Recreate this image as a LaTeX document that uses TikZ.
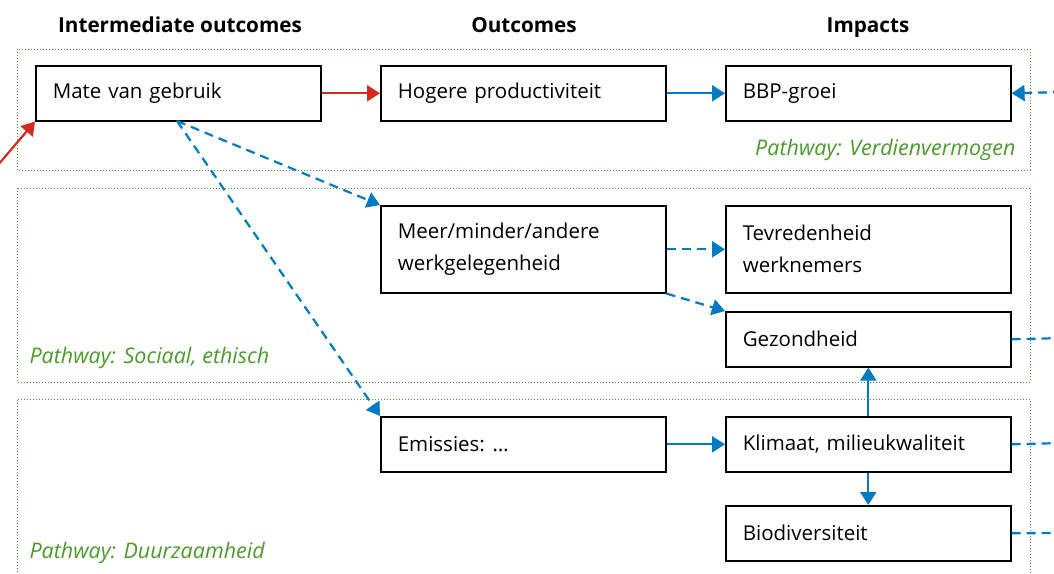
\documentclass[tikz,border=0pt]{standalone}
\usepackage{fontspec}
\setmainfont{Open Sans}
\usetikzlibrary{arrows.meta}
\definecolor{roblue}{RGB}{0,122,194}
\definecolor{rored}{RGB}{213,43,30}
\definecolor{rogreen}{RGB}{75,154,42}
\tikzset{
  box/.style={draw=black, line width=1.6pt, minimum width=285pt, minimum height=55pt, text width=251pt, inner xsep=17pt, inner ysep=0pt, align=left, font=\fontsize{20.5}{32}\selectfont, anchor=north west},
  tall/.style={minimum height=87pt},
  hdr/.style={font=\fontsize{20.7}{24}\selectfont\bfseries, anchor=base},
  pathbox/.style={draw=rogreen, line width=1pt, dotted},
  pathlbl/.style={text=rogreen, font=\fontsize{21.5}{24}\selectfont\itshape},
  tip/.style={-{Triangle[length=13pt,width=16pt]}},
  bl/.style={roblue, line width=2.2pt, tip},
  bld/.style={roblue, line width=2.2pt, dash pattern=on 9pt off 6pt, tip},
  bldn/.style={roblue, line width=2.2pt, dash pattern=on 9pt off 6pt},
  rd/.style={rored, line width=2.2pt, tip},
}
\begin{document}
\begin{tikzpicture}[x=1pt,y=-1pt]
\useasboundingbox (0,0) rectangle (1054,573);
% headers
\node[hdr] (h1) at (180,32) {Intermediate outcomes};
\node[hdr] (h2) at (524,32) {Outcomes};
\node[hdr] (h3) at (868,32) {Impacts};
% pathway boxes
\draw[pathbox] (17,49) rectangle (1030,170);
\draw[pathbox] (17,188) rectangle (1030,382);
\draw[pathbox] (17,599) -- (17,399) -- (1030,399) -- (1030,599);
\node[pathlbl, anchor=east] (p1) at (1019,150) {Pathway: Verdienvermogen};
\node[pathlbl, anchor=west] (p2) at (26,358) {Pathway: Sociaal, ethisch};
\node[pathlbl, anchor=west] (p3) at (26,553) {Pathway: Duurzaamheid};
% boxes
\node[box] (mate) at (35,65) {Mate van gebruik};
\node[box] (hog) at (380,65) {Hogere productiviteit};
\node[box] (bbp) at (725,65) {BBP-groei};
\node[box, tall] (meer) at (380,205) {Meer/minder/andere\\werkgelegenheid};
\node[box, tall] (tev) at (725,205) {Tevredenheid\\werknemers};
\node[box] (gez) at (725,311) {Gezondheid};
\node[box] (emi) at (380,416) {Emissies:\hspace{-0.12em} …};
\node[box] (kli) at (725,416) {Klimaat, milieukwaliteit};
\node[box] (bio) at (725,505) {Biodiversiteit};
% free ends
\coordinate (redin) at (-8,172);
\coordinate (rbbp) at (1062,92);
\coordinate (rgez) at (1062,338);
\coordinate (rkli) at (1062,443);
\coordinate (rbio) at (1062,533);
\coordinate (mfrom) at (177,121);
% connectors
\draw[rd] (redin) -- (mate.south west);
\draw[rd] (mate) -- (hog);
\draw[bl] (hog) -- (bbp);
\draw[bld] (rbbp) -- (bbp.east);
\draw[bld] (mfrom) -- (meer.north west);
\draw[bld] (mfrom) -- (emi.north west);
\draw[bld] (meer.east) -- (tev.west);
\draw[bld] (meer.south east) -- (gez.north west);
\draw[bldn] (gez.east) -- (rgez);
\draw[bldn] (kli.east) -- (rkli);
\draw[bldn] (bio.east) -- (rbio);
\draw[bl] (kli.north) -- (gez.south);
\draw[bl] (kli.south) -- (bio.north);
\draw[bl] (emi) -- (kli);
\end{tikzpicture}
\end{document}
